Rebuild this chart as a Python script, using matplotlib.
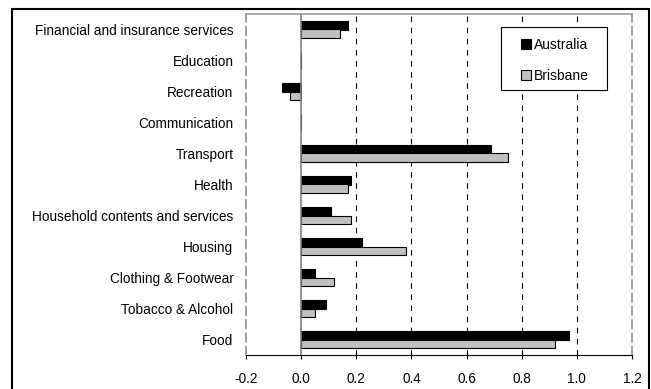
import numpy as np
import matplotlib
matplotlib.use("Agg")
import matplotlib.pyplot as plt
from matplotlib.patches import Rectangle

plt.rcParams['font.family'] = ['Liberation Sans', 'DejaVu Sans']

categories = ['Food', 'Tobacco & Alcohol', 'Clothing & Footwear', 'Housing',
              'Household contents and services', 'Health', 'Transport',
              'Communication', 'Recreation', 'Education',
              'Financial and insurance services']
australia = [0.97, 0.09, 0.05, 0.22, 0.11, 0.18, 0.69, 0.0, -0.07, 0.0, 0.17]
brisbane = [0.92, 0.05, 0.12, 0.38, 0.18, 0.17, 0.75, 0.0, -0.04, 0.0, 0.14]
xticks = [-0.2, 0.0, 0.2, 0.4, 0.6, 0.8, 1.0, 1.2]

fig = plt.figure(figsize=(6.51, 3.89), dpi=100)
ax = fig.add_axes([246 / 651, 1 - 355 / 389, 386 / 651, 341 / 389])

y = np.arange(len(categories))
h = 0.29
ax.barh(y + h / 2, australia, height=h, color='black', edgecolor='black',
        linewidth=0.8, label='Australia', zorder=3)
ax.barh(y - h / 2, brisbane, height=h, color='#c0c0c0', edgecolor='black',
        linewidth=0.8, label='Brisbane', zorder=3)

ax.set_xlim(-0.2, 1.2)
ax.set_ylim(-0.5, len(categories) - 0.5)
ax.set_xticks(xticks)
ax.set_xticklabels([f'{v:.1f}' for v in xticks])
ax.set_yticks(y)
ax.set_yticklabels(categories)

ax.tick_params(axis='y', length=0, pad=9, labelsize=9.8)
ax.tick_params(axis='x', length=3, width=0.8, direction='out', pad=9, labelsize=9.8)

# dashed vertical grid, skip the edges and zero
ax.grid(axis='x', color='black', linestyle=(0, (5, 5)), linewidth=0.8, zorder=1)
for gl, v in zip(ax.get_xgridlines(), xticks):
    if v in (-0.2, 0.0, 1.2):
        gl.set_visible(False)
ax.axvline(0, color='#808080', linewidth=1.2, zorder=4)

ax.spines['top'].set_color('#a0a0a0')
ax.spines['top'].set_linewidth(1.2)
for side in ('left', 'right'):
    ax.spines[side].set_color('#909090')
    ax.spines[side].set_linestyle((0, (5, 3)))
    ax.spines[side].set_linewidth(1.2)
ax.spines['bottom'].set_color('black')
ax.spines['bottom'].set_linewidth(0.8)

# legend entries without frame, box drawn separately (wider than mpl's)
leg = ax.legend(loc='upper left', bbox_to_anchor=(521 / 651, 1 - 38 / 389),
                bbox_transform=fig.transFigure, fontsize=10, frameon=False,
                handlelength=0.7, handleheight=0.7, handletextpad=0.2,
                labelspacing=1.2, borderpad=0, borderaxespad=0)
leg.set_zorder(6)
ax.add_patch(Rectangle((501 / 651, 1 - 90 / 389), 106 / 651, 63 / 389,
                       transform=fig.transFigure, facecolor='white',
                       edgecolor='black', linewidth=0.8, zorder=5))

fig.patches.append(Rectangle((12 / 651, -0.1), 637 / 651, 1.1 - 9 / 389,
                             transform=fig.transFigure, fill=False,
                             edgecolor='black', linewidth=1.5))

fig.savefig('out.png', dpi=100)
